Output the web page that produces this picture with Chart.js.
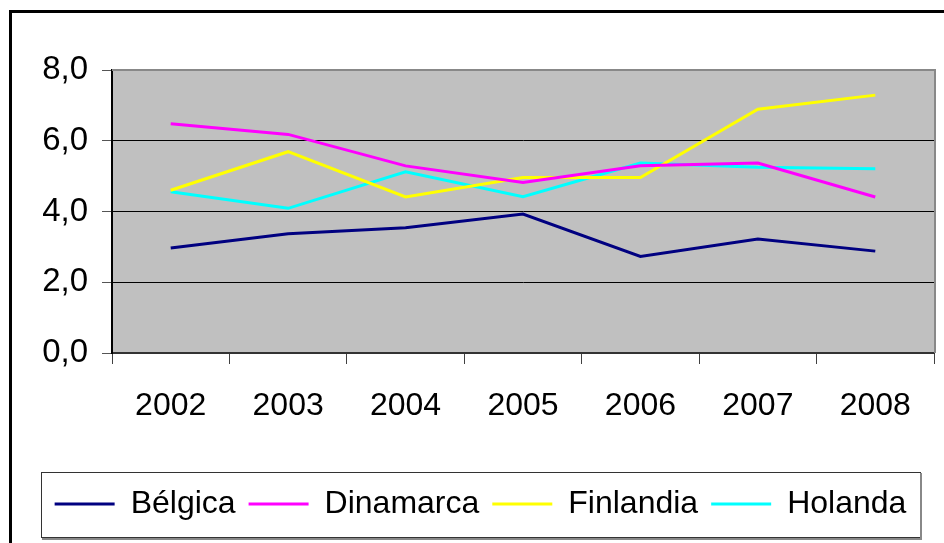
<!DOCTYPE html>
<html>
<head>
<meta charset="utf-8">
<script src="https://cdn.jsdelivr.net/npm/chart.js@4/dist/chart.umd.min.js"></script>
<style>
  html, body { margin: 0; padding: 0; background: #fff; }
  canvas { display: block; }
</style>
</head>
<body>
<canvas id="chart" width="944" height="543"></canvas>
<script>
// Data
const years = ["2002", "2003", "2004", "2005", "2006", "2007", "2008"];
const belgica = [2.97, 3.37, 3.54, 3.93, 2.73, 3.22, 2.88];
const dinamarca = [6.48, 6.18, 5.29, 4.82, 5.29, 5.37, 4.41];
const finlandia = [4.6, 5.69, 4.41, 4.96, 4.96, 6.89, 7.29];
const holanda = [4.56, 4.09, 5.12, 4.42, 5.37, 5.25, 5.21];

const FONT = "'Liberation Sans', Arial, sans-serif";

// gray plot area, outer frame and legend box
const frame = {
  id: "frame",
  beforeDraw(chart) {
    const ctx = chart.ctx;
    const a = chart.chartArea;
    ctx.save();
    ctx.fillStyle = "#fff";
    ctx.fillRect(0, 0, chart.width, chart.height);
    ctx.strokeStyle = "#000";
    ctx.lineWidth = 3;
    ctx.strokeRect(10.5, 11.5, 1000, 1000);
    ctx.fillStyle = "#c0c0c0";
    ctx.fillRect(a.left, a.top, a.right - a.left, a.bottom - a.top);
    ctx.restore();
  },
  beforeDatasetsDraw(chart) {
    const ctx = chart.ctx;
    const a = chart.chartArea;
    ctx.save();
    ctx.strokeStyle = "#888";
    ctx.lineWidth = 2;
    ctx.beginPath();
    ctx.moveTo(a.left, a.top);
    ctx.lineTo(a.right + 1, a.top);
    ctx.lineTo(a.right + 1, a.bottom);
    ctx.stroke();
    ctx.restore();
  },
  afterDraw(chart) {
    const boxes = chart.legend.legendHitBoxes;
    if (!boxes || !boxes.length) return;
    const left = Math.min(...boxes.map((b) => b.left)) - 14;
    const right = Math.max(...boxes.map((b) => b.left + b.width)) + 13;
    const mid = boxes[0].top + boxes[0].height / 2;
    const ctx = chart.ctx;
    ctx.save();
    ctx.strokeStyle = "#333";
    ctx.lineWidth = 1;
    ctx.strokeRect(Math.round(left) + 0.5, Math.round(mid - 32) + 0.5, Math.round(right - left), 65);
    ctx.strokeStyle = "#888";
    ctx.lineWidth = 2;
    ctx.beginPath();
    ctx.moveTo(Math.round(left) + 1, Math.round(mid + 33) + 2);
    ctx.lineTo(Math.round(right) + 2, Math.round(mid + 33) + 2);
    ctx.lineTo(Math.round(right) + 2, Math.round(mid - 32) + 1);
    ctx.stroke();
    ctx.restore();
  },
};

function line(label, values, color) {
  return {
    label: label,
    data: values,
    borderColor: color,
    backgroundColor: color,
    borderWidth: 3,
    pointRadius: 0,
    tension: 0,
    fill: false,
  };
}

new Chart(document.getElementById("chart"), {
  type: "line",
  data: {
    labels: years,
    datasets: [
      line("Bélgica", belgica, "#000080"),
      line("Dinamarca", dinamarca, "#ff00ff"),
      line("Finlandia", finlandia, "#ffff00"),
      line("Holanda", holanda, "#00ffff"),
    ],
  },
  plugins: [frame],
  options: {
    responsive: false,
    animation: false,
    devicePixelRatio: 1,
    layout: {
      padding: { left: 27, right: 10, top: 70, bottom: 13 },
    },
    plugins: {
      tooltip: { enabled: false },
      legend: {
        position: "bottom",
        labels: {
          font: { family: FONT, size: 32 },
          color: "#000",
          boxWidth: 60,
          boxHeight: 3,
          padding: 13,
          generateLabels: function (chart) {
            const items = Chart.defaults.plugins.legend.labels.generateLabels(chart);
            items.forEach((item) => (item.lineWidth = 0));
            return items;
          },
        },
      },
    },
    scales: {
      x: {
        offset: true,
        grid: {
          offset: true,
          drawOnChartArea: false,
          tickLength: 11,
          color: "#404040",
        },
        border: { color: "#333", width: 2 },
        ticks: {
          font: { family: FONT, size: 32 },
          color: "#000",
          padding: 23,
          maxRotation: 0,
        },
        afterFit: function (scale) {
          scale.height = 122;
        },
      },
      y: {
        min: 0,
        max: 8,
        grid: {
          color: "#000",
          tickColor: "#555",
          tickLength: 10,
        },
        border: { color: "#000", width: 2 },
        ticks: {
          stepSize: 2,
          padding: 14,
          font: { family: FONT, size: 33 },
          color: "#000",
          callback: function (value) {
            return value.toFixed(1).replace(".", ","); // comma decimal
          },
        },
        afterFit: function (scale) {
          scale.width = 85;
        },
      },
    },
  },
});
</script>
</body>
</html>
